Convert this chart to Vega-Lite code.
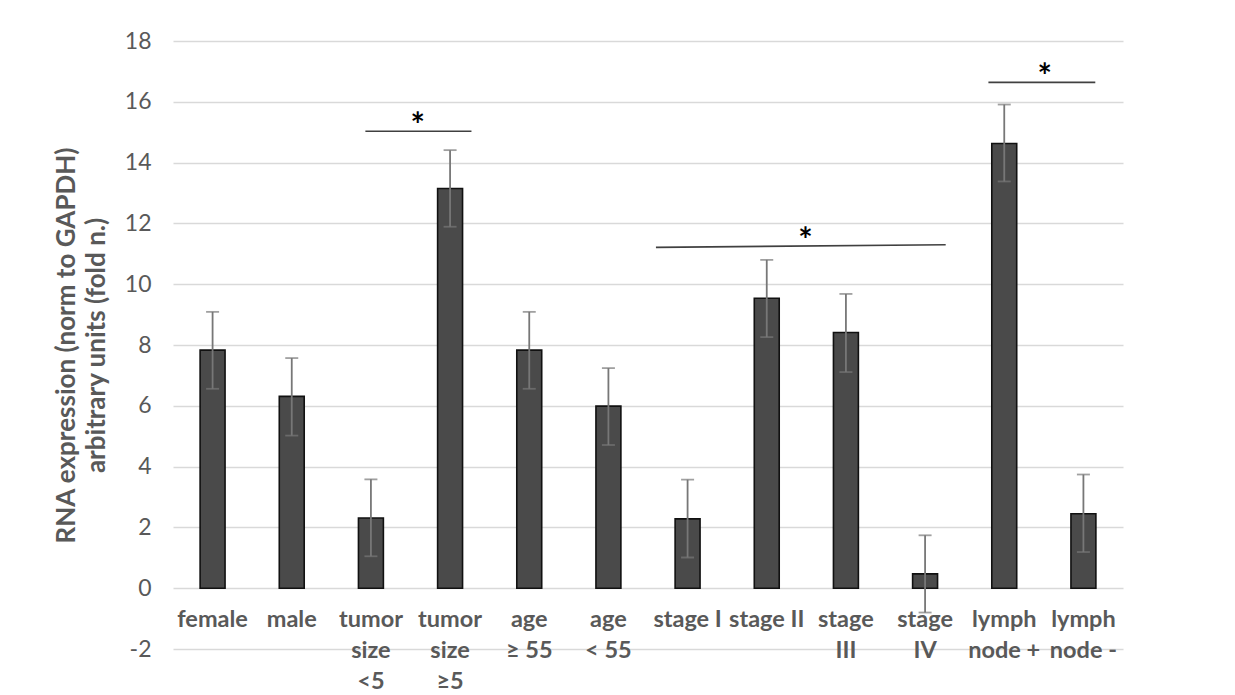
{
  "$schema": "https://vega.github.io/schema/vega-lite/v6.json",
  "autosize": "none",
  "width": 950,
  "height": 608,
  "padding": {"left": 173, "top": 41, "right": 112, "bottom": 46},
  "background": "white",
  "config": {"view": {"stroke": null}, "font": "Lato"},
  "datasets": {
    "bars": [
      {"group": "female", "value": 7.83, "lo": 6.56, "hi": 9.09},
      {"group": "male", "value": 6.31, "lo": 5.02, "hi": 7.57},
      {"group": "tumor|size|<5", "value": 2.31, "lo": 1.05, "hi": 3.58},
      {"group": "tumor|size|≥5", "value": 13.15, "lo": 11.89, "hi": 14.41},
      {"group": "age|≥ 55", "value": 7.83, "lo": 6.56, "hi": 9.09},
      {"group": "age|< 55", "value": 5.99, "lo": 4.71, "hi": 7.24},
      {"group": "stage I", "value": 2.28, "lo": 1.01, "hi": 3.57},
      {"group": "stage II", "value": 9.54, "lo": 8.26, "hi": 10.8},
      {"group": "stage|III", "value": 8.41, "lo": 7.11, "hi": 9.68},
      {"group": "stage|IV", "value": 0.47, "lo": -0.8, "hi": 1.74},
      {"group": "lymph|node +", "value": 14.63, "lo": 13.38, "hi": 15.91},
      {"group": "lymph|node -", "value": 2.45, "lo": 1.19, "hi": 3.74}
    ],
    "sig": [
      {"x1": 1.93, "x2": 3.27, "y1": 15.03, "y2": 15.03, "sx": 2.59, "sy": 15.03},
      {"x1": 5.6, "x2": 9.26, "y1": 11.21, "y2": 11.3, "sx": 7.49, "sy": 11.26},
      {"x1": 9.8, "x2": 11.15, "y1": 16.64, "y2": 16.64, "sx": 10.51, "sy": 16.64}
    ]
  },
  "resolve": {"scale": {"x": "independent"}},
  "layer": [
    {
      "data": {"name": "bars"},
      "encoding": {
        "x": {
          "field": "group", "type": "nominal", "sort": null,
          "scale": {"paddingInner": 0.685, "paddingOuter": 0.3425},
          "axis": {
            "title": null, "domain": false, "ticks": false, "grid": false,
            "labelAngle": 0, "offset": -60.5, "labelPadding": 19,
            "labelExpr": "split(datum.label, '|')",
            "labelFont": "Lato", "labelFontWeight": "bold", "labelFontSize": 23.5,
            "labelColor": "#595959", "labelLineHeight": 31, "labelBaseline": "top",
            "labelOverlap": false, "labelBound": false
          }
        }
      },
      "layer": [
        {
          "mark": {"type": "bar", "fill": "#4a4a4a", "stroke": "#111111", "strokeWidth": 1.6},
          "encoding": {
            "y": {
              "field": "value", "type": "quantitative",
              "scale": {"domain": [-2, 18], "nice": false, "zero": false},
              "axis": {
                "values": [-2, 0, 2, 4, 6, 8, 10, 12, 14, 16, 18],
                "labelExpr": "replace(datum.label, '−', '-')",
                "title": ["RNA expression (norm to GAPDH)", "arbitrary units (fold n.)"],
                "titleFont": "Lato", "titleFontWeight": "bold", "titleFontSize": 26,
                "titleColor": "#595959", "titleLineHeight": 30, "titlePadding": 15,
                "labelFont": "Lato", "labelFontSize": 23, "labelColor": "#595959",
                "labelPadding": 22, "domain": false, "ticks": false,
                "grid": true, "gridColor": "#d9d9d9", "gridWidth": 1.5
              }
            }
          }
        },
        {
          "mark": {"type": "rule", "color": "#777777", "strokeWidth": 1.8},
          "encoding": {
            "y": {"field": "lo", "type": "quantitative"},
            "y2": {"field": "hi"}
          }
        },
        {
          "mark": {"type": "tick", "orient": "horizontal", "color": "#777777", "size": 13, "thickness": 1.8},
          "encoding": {"y": {"field": "hi", "type": "quantitative"}}
        },
        {
          "mark": {"type": "tick", "orient": "horizontal", "color": "#777777", "size": 13, "thickness": 1.8},
          "encoding": {"y": {"field": "lo", "type": "quantitative"}}
        }
      ]
    },
    {
      "data": {"name": "sig"},
      "layer": [
        {
          "mark": {"type": "rule", "color": "#404040", "strokeWidth": 1.6},
          "encoding": {
            "x": {"field": "x1", "type": "quantitative", "scale": {"domain": [-0.5, 11.5], "nice": false, "zero": false}, "axis": null},
            "x2": {"field": "x2"},
            "y": {"field": "y1", "type": "quantitative"},
            "y2": {"field": "y2"}
          }
        },
        {
          "mark": {"type": "text", "text": "*", "font": "Lato", "fontSize": 34, "fontWeight": "bold", "color": "#000000", "baseline": "alphabetic", "dy": 6},
          "encoding": {
            "x": {"field": "sx", "type": "quantitative"},
            "y": {"field": "sy", "type": "quantitative"}
          }
        }
      ]
    }
  ]
}
